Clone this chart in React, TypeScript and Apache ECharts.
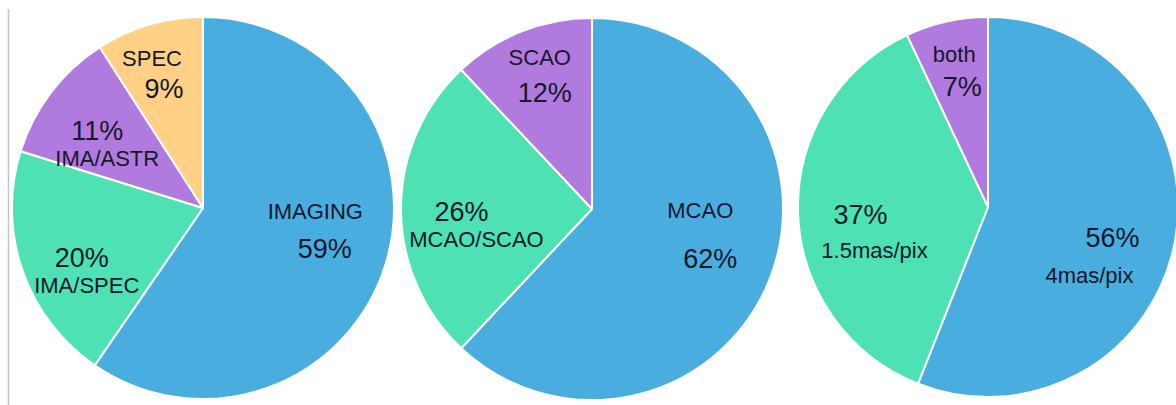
import React, { useEffect, useRef } from 'react';
import * as echarts from 'echarts';

// ---- data ----
const SLICE_COLORS = ['#4AADE0', '#4DE1B3', '#B07ADE', '#FFD085'];

const pie1Names = ['IMAGING', 'IMA/SPEC', 'IMA/ASTR', 'SPEC'];
const pie1Values = [59, 20, 11, 9];
const pie1PercentFirst = [false, true, true, false];

const pie2Names = ['MCAO', 'MCAO/SCAO', 'SCAO'];
const pie2Values = [62, 26, 12];
const pie2PercentFirst = [false, true, false];

const pie3Names = ['4mas/pix', '1.5mas/pix', 'both'];
const pie3Values = [56, 37, 7];
const pie3PercentFirst = [true, true, false];

// ---- label layout (offset from the inside anchor, line spacing, horizontal shift) ----
const pie1Layout = [
  { off: [23, -7], sep: 37.5, shift: 4.75 },
  { off: [-25.7, 31.7], sep: 27.5, shift: 2.5 },
  { off: [-22.4, -3.75], sep: 28, shift: 5 },
  { off: [-17.2, -39.8], sep: 30, shift: 6 },
];
const pie2Layout = [
  { off: [21.7, -10.5], sep: 48, shift: 5 },
  { off: [-24.5, 16.5], sep: 27, shift: 7.5 },
  { off: [-13.5, -42.2], sep: 35, shift: 2.5 },
];
const pie3Layout = [
  { off: [16.7, 31.3], sep: 38, shift: -11.5 },
  { off: [-22.5, 22.5], sep: 35, shift: 7 },
  { off: [-8.4, -40.8], sep: 32, shift: 4 },
];

const FONT = "'Liberation Sans', Arial, Helvetica, sans-serif";
const TEXT_COLOR = '#16182b';
const NAME_SIZE = 22;
const PCT_SIZE = 27;

function pad(s: number) {
  return s >= 0 ? [0, 0, 0, 2 * s] : [0, -2 * s, 0, 0];
}

function buildData(names: string[], values: number[], pctFirst: boolean[], layout: any[]) {
  return names.map((name, i) => {
    const L = layout[i];
    const pct = `${values[i]}%`;
    const topIsPct = pctFirst[i];
    const topText = topIsPct ? pct : name;
    const botText = topIsPct ? name : pct;
    return {
      name,
      value: values[i],
      itemStyle: { color: SLICE_COLORS[i] },
      label: {
        offset: L.off,
        formatter: `{top|${topText}}\n{bot|${botText}}`,
        rich: {
          top: {
            fontSize: topIsPct ? PCT_SIZE : NAME_SIZE,
            lineHeight: L.sep,
            padding: pad(-L.shift),
            color: TEXT_COLOR,
            fontFamily: FONT,
          },
          bot: {
            fontSize: topIsPct ? NAME_SIZE : PCT_SIZE,
            lineHeight: L.sep,
            padding: pad(L.shift),
            color: TEXT_COLOR,
            fontFamily: FONT,
          },
        },
      },
    };
  });
}

function pieSeries(center: number[], radius: number, data: any[]) {
  return {
    type: 'pie',
    center,
    radius,
    startAngle: 90,
    clockwise: true,
    avoidLabelOverlap: false,
    silent: true,
    label: { show: true, position: 'inside', color: TEXT_COLOR, fontFamily: FONT },
    labelLine: { show: false },
    itemStyle: { borderColor: '#ffffff', borderWidth: 2 },
    emphasis: { disabled: true },
    data,
  };
}

export default function App() {
  const ref = useRef<HTMLDivElement>(null);
  useEffect(() => {
    if (!ref.current) return;
    const chart = echarts.init(ref.current, undefined, { renderer: 'svg' });
    chart.setOption({
      animation: false,
      backgroundColor: '#ffffff',
      graphic: [
        {
          type: 'line',
          shape: { x1: 8.5, y1: 9, x2: 8.5, y2: 405 },
          style: { stroke: '#c4c4c4', lineWidth: 1.5 },
        },
      ],
      series: [
        pieSeries([203, 208], 191, buildData(pie1Names, pie1Values, pie1PercentFirst, pie1Layout)),
        pieSeries([592, 209], 191, buildData(pie2Names, pie2Values, pie2PercentFirst, pie2Layout)),
        pieSeries([988, 207], 190, buildData(pie3Names, pie3Values, pie3PercentFirst, pie3Layout)),
      ],
    });
    return () => chart.dispose();
  }, []);
  return (
    <div
      ref={ref}
      style={{ position: 'fixed', left: 0, top: 0, width: 1176, height: 405 }}
    />
  );
}
